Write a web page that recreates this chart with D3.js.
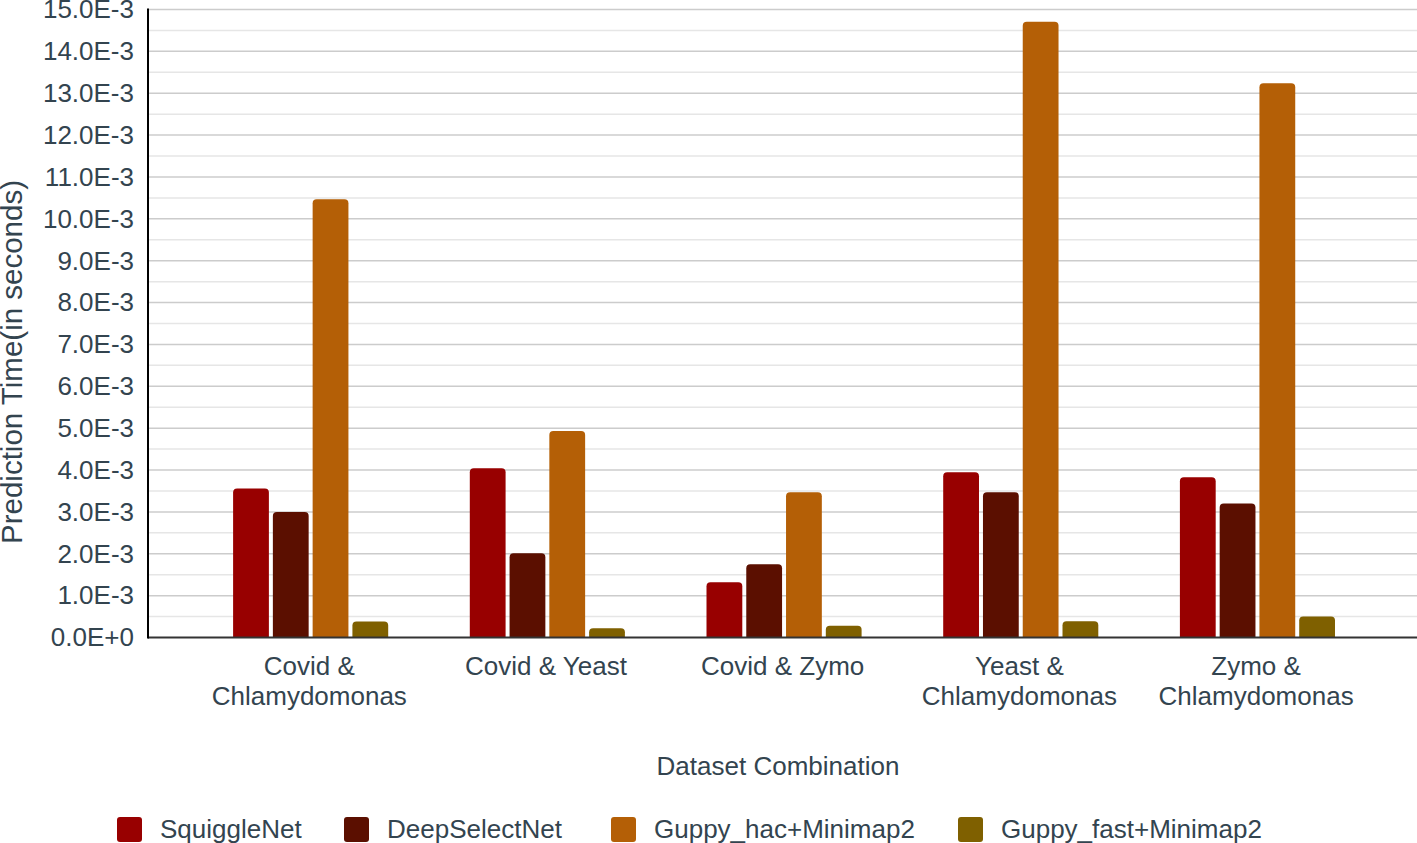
<!DOCTYPE html>
<html>
<head>
<meta charset="utf-8">
<script src="https://cdn.jsdelivr.net/npm/d3@7"></script>
<style>
  html, body { margin: 0; padding: 0; background: #fff; }
  svg { display: block; }
  text { font-family: "Liberation Sans", Arial, sans-serif; fill: #33444f; }
</style>
</head>
<body>
<svg id="chart" width="1417" height="843"></svg>
<script>
const categories = ["Covid &\nChlamydomonas", "Covid & Yeast", "Covid & Zymo", "Yeast &\nChlamydomonas", "Zymo &\nChlamydomonas"];
const seriesNames = ["SquiggleNet", "DeepSelectNet", "Guppy_hac+Minimap2", "Guppy_fast+Minimap2"];
const squiggleNet = [3.56e-3, 4.04e-3, 1.32e-3, 3.95e-3, 3.83e-3];
const deepSelectNet = [3.00e-3, 2.01e-3, 1.75e-3, 3.47e-3, 3.20e-3];
const guppyHac = [10.47e-3, 4.93e-3, 3.47e-3, 14.71e-3, 13.24e-3];
const guppyFast = [0.38e-3, 0.22e-3, 0.28e-3, 0.39e-3, 0.50e-3];
const seriesColors = ["#980000", "#5b0f00", "#b45f06", "#7f6000"];
const yTickValues = [0, 1e-3, 2e-3, 3e-3, 4e-3, 5e-3, 6e-3, 7e-3, 8e-3, 9e-3, 10e-3, 11e-3, 12e-3, 13e-3, 14e-3, 15e-3];
const yTickLabels = ["0.0E+0", "1.0E-3", "2.0E-3", "3.0E-3", "4.0E-3", "5.0E-3", "6.0E-3", "7.0E-3", "8.0E-3", "9.0E-3", "10.0E-3", "11.0E-3", "12.0E-3", "13.0E-3", "14.0E-3", "15.0E-3"];
const yMinorValues = [0.5e-3, 1.5e-3, 2.5e-3, 3.5e-3, 4.5e-3, 5.5e-3, 6.5e-3, 7.5e-3, 8.5e-3, 9.5e-3, 10.5e-3, 11.5e-3, 12.5e-3, 13.5e-3, 14.5e-3];
const xTitle = "Dataset Combination";
const yTitle = "Prediction Time(in seconds)";

const allSeries = [squiggleNet, deepSelectNet, guppyHac, guppyFast];
const data = categories.map((c, i) => ({cat: c, vals: seriesNames.map((s, j) => ({s, j, v: allSeries[j][i]}))}));

const svg = d3.select("#chart");
const plotLeft = 148, plotRight = 1417, plotTop = 9.5, plotBottom = 637.5;
const fontSize = 26;

const y = d3.scaleLinear().domain([0, 15e-3]).range([plotBottom, plotTop]);
const x0 = d3.scaleBand().domain(categories).range([192.3, 1375.8]);
const x1 = d3.scaleBand().domain(seriesNames).range([40.8, 195.9]).paddingInner(0.1);

// minor gridlines
svg.append("g").selectAll("line").data(yMinorValues).join("line")
  .attr("x1", plotLeft).attr("x2", plotRight)
  .attr("y1", d => y(d)).attr("y2", d => y(d))
  .attr("stroke", "#e6e6e6").attr("stroke-width", 1.5);
// major gridlines
svg.append("g").selectAll("line").data(yTickValues.slice(1)).join("line")
  .attr("x1", plotLeft).attr("x2", plotRight)
  .attr("y1", d => y(d)).attr("y2", d => y(d))
  .attr("stroke", "#cccccc").attr("stroke-width", 1.5);

// y axis
const yAxis = d3.axisLeft(y).tickValues(yTickValues)
  .tickFormat((d, i) => yTickLabels[i]).tickSize(0).tickPadding(14);
const gy = svg.append("g").attr("transform", `translate(${plotLeft},0)`).call(yAxis);
gy.select(".domain").remove();
gy.selectAll("text").attr("font-size", fontSize).style("font-family", "'Liberation Sans', Arial, sans-serif").attr("fill", "#33444f");

// bars (rounded tops)
function barPath(xp, w, yTop, yBase, r) {
  r = Math.min(r, (yBase - yTop), w / 2);
  return `M${xp},${yBase}V${yTop + r}Q${xp},${yTop} ${xp + r},${yTop}H${xp + w - r}Q${xp + w},${yTop} ${xp + w},${yTop + r}V${yBase}Z`;
}
const groups = svg.append("g").selectAll("g").data(data).join("g")
  .attr("transform", d => `translate(${x0(d.cat)},0)`);
groups.selectAll("path").data(d => d.vals).join("path")
  .attr("d", d => barPath(x1(d.s), x1.bandwidth(), y(d.v), y(0), 4))
  .attr("fill", d => seriesColors[d.j]);

// axis lines
svg.append("line").attr("x1", plotLeft).attr("x2", plotRight).attr("y1", plotBottom).attr("y2", plotBottom)
  .attr("stroke", "#333").attr("stroke-width", 2);
svg.append("line").attr("x1", plotLeft).attr("x2", plotLeft).attr("y1", plotTop - 1).attr("y2", plotBottom + 1)
  .attr("stroke", "#000").attr("stroke-width", 2);

// x labels
const xl = svg.append("g").selectAll("text").data(categories).join("text")
  .attr("x", d => x0(d) + 117)
  .attr("y", 675)
  .attr("text-anchor", "middle").attr("font-size", fontSize);
xl.selectAll("tspan").data(d => d.split("\n")).join("tspan")
  .attr("x", function() { return d3.select(this.parentNode).attr("x"); })
  .attr("dy", (d, i) => i === 0 ? 0 : 30)
  .text(d => d);

// axis titles
svg.append("text").attr("x", 778).attr("y", 775).attr("text-anchor", "middle")
  .attr("font-size", fontSize).text(xTitle);
svg.append("text").attr("transform", "translate(22,362) rotate(-90)").attr("text-anchor", "middle")
  .attr("font-size", 29.5).text(yTitle);

// legend
const legendX = [117, 344, 611, 958];
const lg = svg.append("g").selectAll("g").data(seriesNames).join("g")
  .attr("transform", (d, i) => `translate(${legendX[i]},817)`);
lg.append("rect").attr("width", 25).attr("height", 25).attr("rx", 3)
  .attr("fill", (d, i) => seriesColors[i]);
lg.append("text").attr("x", 43).attr("y", 21).attr("font-size", fontSize).text(d => d);
</script>
</body>
</html>
